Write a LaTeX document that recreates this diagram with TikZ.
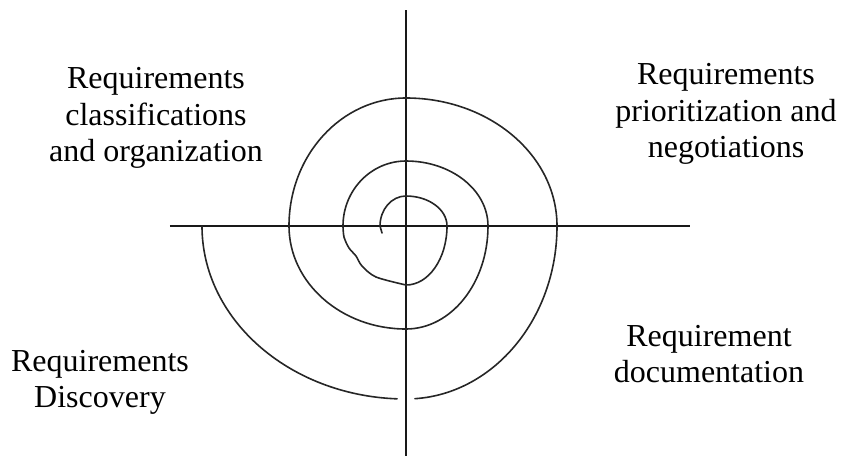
\documentclass[tikz,border=0pt]{standalone}
\usepackage{fontspec}
\setmainfont{Liberation Serif}
\usepackage{tikz}
\usetikzlibrary{positioning, calc}
\tikzset{txt/.style={align=center, inner sep=0pt, font=\fontsize{32}{36.5}\selectfont},
axis/.style={line width=1.8pt, black!90},
spiral/.style={line width=1.6pt, line cap=round, line join=round, black!85}
}

\begin{document}
\begin{tikzpicture}[x=1pt,y=1pt]
\useasboundingbox (-406,-233) rectangle (436,226);
\coordinate (o) at (0,0);
\coordinate (w) at (-236,0);
\coordinate (e) at (284,0);
\coordinate (n) at (0,216);
\coordinate (s) at (0,-230);
\draw[axis] (w) -- (e);
\draw[axis] (n) -- (s);
 % the spiral, one quarter after the other, from the middle outwards
\draw[spiral] (-24,-7) -- (-26,0)
  arc[start angle=180, end angle=90, x radius=26, y radius=30]
  arc[start angle=90, end angle=0, x radius=41, y radius=30]
  arc[start angle=0, end angle=-90, x radius=41, y radius=59]
  plot[smooth, tension=0.5] coordinates {(0,-59) (-30,-51) (-44,-40) (-50,-30) (-57,-22) (-62,-11) (-63,0)}
  arc[start angle=180, end angle=90, x radius=63, y radius=65]
  arc[start angle=90, end angle=0, x radius=82, y radius=65]
  arc[start angle=0, end angle=-90, x radius=82, y radius=103]
  arc[start angle=-90, end angle=-180, x radius=117, y radius=103]
  arc[start angle=180, end angle=90, x radius=117, y radius=128]
  arc[start angle=90, end angle=0, x radius=151, y radius=128]
  arc[start angle=0, end angle=-86.6, x radius=151, y radius=173];
\draw[spiral] (-92.5:204 and 173)
  arc[start angle=-92.5, end angle=-180, x radius=204, y radius=173];
\node[txt] (cls) at (-250,108) {Requirements\\classifications\\and organization};
\node[txt] (pri) at (320,112) {Requirements\\prioritization and\\negotiations};
\node[txt] (dis) at (-306,-156.5) {Requirements\\Discovery};
\node[txt] (doc) at (303,-128) {Requirement\\documentation};
\end{tikzpicture}
\end{document}
